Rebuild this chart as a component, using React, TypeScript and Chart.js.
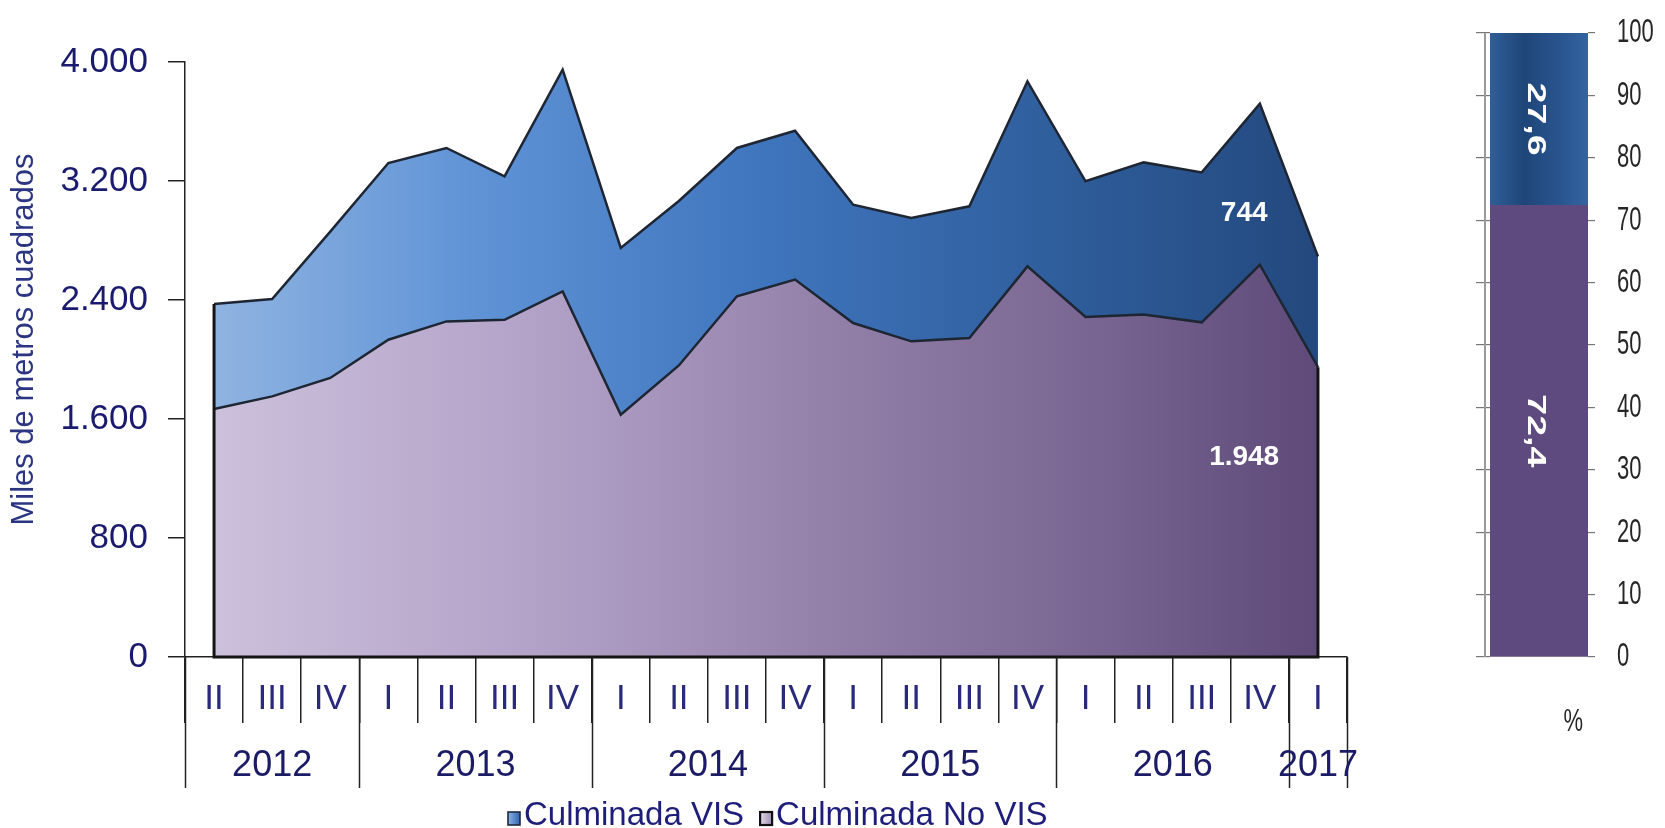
import React, { useEffect, useRef } from 'react';
import { Chart, registerables } from 'chart.js';

Chart.register(...registerables);

// ---------- data ----------
const quarters = ['II', 'III', 'IV', 'I', 'II', 'III', 'IV', 'I', 'II', 'III', 'IV', 'I', 'II', 'III', 'IV', 'I', 'II', 'III', 'IV', 'I'];
const years = ['2012', '2012', '2012', '2013', '2013', '2013', '2013', '2014', '2014', '2014', '2014', '2015', '2015', '2015', '2015', '2016', '2016', '2016', '2016', '2017'];
const noVis = [1667, 1752, 1876, 2133, 2256, 2267, 2458, 1629, 1960, 2425, 2537, 2245, 2122, 2145, 2626, 2286, 2302, 2250, 2637, 1948];
const vis = [706, 655, 984, 1188, 1166, 964, 1490, 1121, 1106, 997, 1001, 796, 829, 885, 1244, 912, 1023, 1008, 1083, 744];
const seriesNames = ['Culminada VIS', 'Culminada No VIS'];
const yTitle = 'Miles de metros cuadrados';
const yMax = 4000;
const yStep = 800;

const shareCategory = ['I 2017'];
const shareNoVis = [72.4];
const shareVis = [27.6];
const shareMax = 100;
const shareStep = 10;
const shareUnit = '%';

// ---------- helpers ----------
const FONT = "'Liberation Sans', Arial, Helvetica, sans-serif";
const fmtThousands = (v: number) => String(Math.round(v)).replace(/\B(?=(\d{3})+(?!\d))/g, '.');
const fmtDecimal = (v: number) => v.toFixed(1).replace('.', ',');

const MAIN_W = 1420;
const H = 828;

function hGrad(ctx: CanvasRenderingContext2D, x0: number, x1: number, stops: [number, string][]) {
  const g = ctx.createLinearGradient(x0, 0, x1, 0);
  stops.forEach(([o, c]) => g.addColorStop(o, c));
  return g;
}

const visStops: [number, string][] = [
  [0, '#95b7e2'],
  [0.25, '#5f93d6'],
  [0.5, '#3f75bd'],
  [0.75, '#2f5e9c'],
  [1, '#22467a'],
];
const noVisStops: [number, string][] = [
  [0, '#cec3dd'],
  [0.3, '#b3a2c8'],
  [0.55, '#9481aa'],
  [0.8, '#76638f'],
  [1, '#5b4675'],
];

const mainDecor = {
  id: 'mainDecor',
  afterDatasetsDraw(chart: any) {
    const { ctx, scales } = chart;
    const x = scales.x;
    const y = scales.y;
    const n = quarters.length;
    const x0 = x.getPixelForValue(0);
    const xn = x.getPixelForValue(n - 1);
    const yb = y.getPixelForValue(0);
    ctx.save();
    // outline of the stacked area (sides and base)
    ctx.strokeStyle = '#141414';
    ctx.lineWidth = 3;
    ctx.lineJoin = 'miter';
    ctx.beginPath();
    ctx.moveTo(x0, y.getPixelForValue(noVis[0] + vis[0]));
    ctx.lineTo(x0, yb);
    ctx.lineTo(xn, yb);
    ctx.lineTo(xn, y.getPixelForValue(noVis[n - 1]));
    ctx.stroke();
    // value labels of the last quarter
    const cell = xn - x.getPixelForValue(n - 2);
    const lx = xn - cell * 1.27;
    ctx.fillStyle = '#ffffff';
    ctx.font = `bold 28px ${FONT}`;
    ctx.textAlign = 'center';
    ctx.textBaseline = 'middle';
    ctx.fillText(fmtThousands(vis[n - 1]), lx, y.getPixelForValue(2980));
    ctx.fillText(fmtThousands(noVis[n - 1]), lx, y.getPixelForValue(1340));
    ctx.restore();
  },
  afterDraw(chart: any) {
    const { ctx, scales, chartArea } = chart;
    const x = scales.x;
    const y = scales.y;
    const n = quarters.length;
    const cell = x.getPixelForValue(1) - x.getPixelForValue(0);
    const yb = y.getPixelForValue(0);
    ctx.save();
    // year separators
    ctx.strokeStyle = '#222';
    ctx.lineWidth = 1.5;
    const bounds: number[] = [];
    for (let i = 0; i <= n; i++) {
      if (i === 0 || i === n || years[i] !== years[i - 1]) bounds.push(i);
    }
    bounds.forEach((i) => {
      const bx = Math.round(x.getPixelForValue(0) - cell / 2 + i * cell) + 0.5;
      ctx.beginPath();
      ctx.moveTo(bx, yb);
      ctx.lineTo(bx, yb + 131);
      ctx.stroke();
    });
    // quarter labels
    ctx.fillStyle = '#2a2a7c';
    ctx.font = `35px ${FONT}`;
    ctx.textAlign = 'center';
    ctx.textBaseline = 'middle';
    quarters.forEach((q, i) => ctx.fillText(q, x.getPixelForValue(i), yb + 42));
    // year labels
    ctx.fillStyle = '#1b1b66';
    ctx.font = `36px ${FONT}`;
    for (let b = 0; b < bounds.length - 1; b++) {
      const a = bounds[b];
      const e = bounds[b + 1];
      const cx = x.getPixelForValue(0) - cell / 2 + ((a + e) / 2) * cell;
      ctx.fillText(years[a], cx, yb + 109);
    }
    // y title
    ctx.save();
    ctx.translate(24, (chartArea.top + chartArea.bottom) / 2 - 20);
    ctx.rotate(-Math.PI / 2);
    ctx.fillStyle = '#2c3582';
    ctx.font = `31px ${FONT}`;
    ctx.fillText(yTitle, 0, 0);
    ctx.restore();
    // legend
    ctx.textAlign = 'left';
    ctx.textBaseline = 'alphabetic';
    ctx.font = `33px ${FONT}`;
    const ly = 825;
    let lx = 508;
    const sq = 12;
    const sqTop = ly - 13;
    // VIS swatch
    ctx.fillStyle = hGrad(ctx, lx, lx + sq, [[0, '#8db3e2'], [1, '#2f66b3']]);
    ctx.fillRect(lx, sqTop, sq, sq + 1);
    ctx.strokeStyle = '#1d2a3d';
    ctx.lineWidth = 1.6;
    ctx.strokeRect(lx, sqTop, sq, sq + 1);
    ctx.fillStyle = '#1e1e7a';
    ctx.fillText(seriesNames[0], lx + 16, ly);
    lx = lx + 16 + ctx.measureText(seriesNames[0]).width + 16;
    // No VIS swatch
    ctx.fillStyle = hGrad(ctx, lx, lx + sq, [[0, '#e4dcec'], [1, '#9c8cb0']]);
    ctx.fillRect(lx, sqTop, sq, sq + 1);
    ctx.strokeStyle = '#111';
    ctx.lineWidth = 2.2;
    ctx.strokeRect(lx, sqTop, sq, sq + 1);
    ctx.fillStyle = '#1e1e7a';
    ctx.fillText(seriesNames[1], lx + 16, ly);
    ctx.restore();
  },
};

const shareDecor = {
  id: 'shareDecor',
  afterDatasetsDraw(chart: any) {
    const { ctx, chartArea } = chart;
    ctx.save();
    // left axis line, set slightly apart from the bar
    ctx.strokeStyle = '#9a9a9a';
    ctx.lineWidth = 2;
    ctx.beginPath();
    ctx.moveTo(chartArea.left - 5, chartArea.top);
    ctx.lineTo(chartArea.left - 5, chartArea.bottom);
    ctx.stroke();
    ctx.fillStyle = '#ffffff';
    ctx.font = `bold 25px ${FONT}`;
    ctx.textAlign = 'center';
    ctx.textBaseline = 'middle';
    chart.data.datasets.forEach((ds: any, di: number) => {
      const el = chart.getDatasetMeta(di).data[0];
      const cx = el.x - 4;
      const cy = (el.y + el.base) / 2;
      ctx.save();
      ctx.translate(cx, cy);
      ctx.rotate(Math.PI / 2);
      ctx.scale(1.5, 1);
      ctx.fillText(fmtDecimal(ds.data[0]), 0, 0);
      ctx.restore();
    });
    ctx.restore();
  },
  afterDraw(chart: any) {
    const { ctx, scales, chartArea } = chart;
    const s = scales.y2;
    ctx.save();
    ctx.fillStyle = '#262626';
    ctx.font = `22px ${FONT}`;
    ctx.textAlign = 'left';
    ctx.textBaseline = 'middle';
    s.ticks.forEach((t: any) => {
      const py = s.getPixelForValue(t.value);
      ctx.save();
      ctx.translate(chartArea.right + 29, py);
      ctx.scale(1, 1.55);
      ctx.fillText(String(t.value), 0, 0);
      ctx.restore();
    });
    ctx.save();
    ctx.textAlign = 'center';
    ctx.translate(chartArea.left + (chartArea.right - chartArea.left) * 0.85, chartArea.bottom + 66);
    ctx.scale(1, 1.4);
    ctx.fillText(shareUnit, 0, 0);
    ctx.restore();
    ctx.restore();
  },
};

export default function App() {
  const mainRef = useRef<HTMLCanvasElement>(null);
  const shareRef = useRef<HTMLCanvasElement>(null);

  useEffect(() => {
    const main = new Chart(mainRef.current as HTMLCanvasElement, {
      type: 'line',
      data: {
        labels: quarters.map((q, i) => `${q} ${years[i]}`),
        datasets: [
          {
            label: seriesNames[1],
            data: noVis,
            fill: 'origin',
            borderColor: '#1e2633',
            borderWidth: 2.5,
            pointRadius: 0,
            tension: 0,
            backgroundColor: (c: any) => {
              const ca = c.chart.chartArea;
              if (!ca) return '#9481aa';
              return hGrad(c.chart.ctx, ca.left, ca.right, noVisStops);
            },
          },
          {
            label: seriesNames[0],
            data: vis,
            fill: '-1',
            borderColor: '#1e2633',
            borderWidth: 2.5,
            pointRadius: 0,
            tension: 0,
            backgroundColor: (c: any) => {
              const ca = c.chart.chartArea;
              if (!ca) return '#3f75bd';
              return hGrad(c.chart.ctx, ca.left, ca.right, visStops);
            },
          },
        ],
      },
      options: {
        animation: false,
        responsive: true,
        maintainAspectRatio: false,
        layout: { padding: { top: 62, left: 0, right: 73, bottom: 0 } },
        plugins: { legend: { display: false }, tooltip: { enabled: false }, title: { display: false } },
        scales: {
          x: {
            type: 'category',
            offset: true,
            grid: { offset: true, drawOnChartArea: false, drawTicks: true, tickLength: 66, color: '#222', lineWidth: 1.5 },
            border: { display: true, color: '#222', width: 1.5 },
            ticks: { display: false },
            afterFit: (s: any) => { s.height = H - 657; },
          },
          y: {
            stacked: true,
            min: 0,
            max: yMax,
            ticks: {
              stepSize: yStep,
              color: '#1a1a6e',
              font: { family: FONT, size: 35 },
              padding: 20,
              callback: (v: any) => fmtThousands(Number(v)),
            },
            grid: { drawOnChartArea: false, drawTicks: true, tickLength: 17, color: '#222', lineWidth: 1.5 },
            border: { display: true, color: '#222', width: 1.5 },
            afterFit: (s: any) => { s.width = 185; },
          },
        },
      },
      plugins: [mainDecor],
    } as any);

    const share = new Chart(shareRef.current as HTMLCanvasElement, {
      type: 'bar',
      data: {
        labels: shareCategory,
        datasets: [
          { label: seriesNames[1], data: shareNoVis, backgroundColor: '#5e4a7f', borderWidth: 0, barPercentage: 1, categoryPercentage: 1 },
          {
            label: seriesNames[0],
            data: shareVis,
            borderWidth: 0,
            barPercentage: 1,
            categoryPercentage: 1,
            backgroundColor: (c: any) => {
              const ca = c.chart.chartArea;
              if (!ca) return '#23497f';
              return hGrad(c.chart.ctx, ca.left, ca.right, [[0, '#2f5e99'], [0.35, '#1f4679'], [0.7, '#28548e'], [1, '#3564a1']]);
            },
          },
        ],
      },
      options: {
        animation: false,
        responsive: true,
        maintainAspectRatio: false,
        layout: { padding: { top: 33, left: 0, right: 0, bottom: H - 657 } },
        plugins: { legend: { display: false }, tooltip: { enabled: false } },
        scales: {
          x: { stacked: true, display: false },
          y: {
            stacked: true,
            min: 0,
            max: shareMax,
            position: 'left',
            ticks: { display: false, stepSize: shareStep },
            grid: { drawOnChartArea: false, drawTicks: true, tickLength: 14, color: '#777', lineWidth: 1.2 },
            border: { display: false },
            afterFit: (s: any) => { s.width = 70; },
          },
          y2: {
            min: 0,
            max: shareMax,
            position: 'right',
            ticks: { display: false, stepSize: shareStep },
            grid: { drawOnChartArea: false, drawTicks: true, tickLength: 7, color: '#777', lineWidth: 1.2 },
            border: { display: false },
            afterFit: (s: any) => { s.width = 77; },
          },
        },
      },
      plugins: [shareDecor],
    } as any);

    return () => {
      main.destroy();
      share.destroy();
    };
  }, []);

  return (
    <div style={{ position: 'absolute', left: 0, top: 0, width: 1665, height: H, background: '#fff' }}>
      <div style={{ position: 'absolute', left: 0, top: 0, width: MAIN_W, height: H }}>
        <canvas ref={mainRef} />
      </div>
      <div style={{ position: 'absolute', left: MAIN_W, top: 0, width: 1665 - MAIN_W, height: H }}>
        <canvas ref={shareRef} />
      </div>
    </div>
  );
}
